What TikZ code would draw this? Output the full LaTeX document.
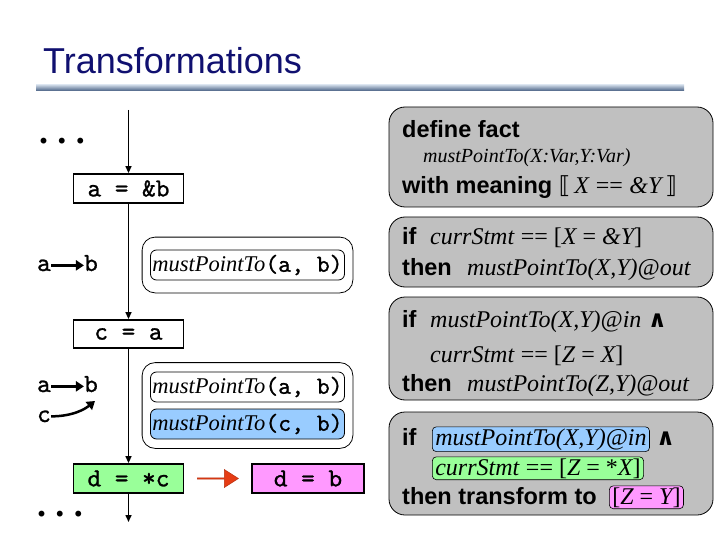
\documentclass[tikz,border=0pt]{standalone}
\usepackage{fontspec}
\setmainfont{Liberation Sans}
\newfontfamily\tms{Liberation Serif}
\newfontfamily\djv{DejaVu Sans}
\newfontfamily\cour[FakeBold=1]{lmmono10-regular.otf}
\usetikzlibrary{arrows.meta,shapes.arrows,fit}
\definecolor{navy}{RGB}{16,16,112}
\definecolor{rulegray}{RGB}{192,192,192}
\definecolor{factblue}{RGB}{153,204,255}
\definecolor{stmtgreen}{RGB}{153,255,153}
\definecolor{stmtpink}{RGB}{255,153,255}
\definecolor{arrred}{RGB}{230,60,20}
\definecolor{barlight}{RGB}{200,212,226}
\definecolor{bardark}{RGB}{70,95,130}
\newcommand{\ti}[1]{{\tms\mdseries\itshape #1}}
\newcommand{\tr}[1]{{\tms\mdseries\upshape #1}}
\newcommand{\mpt}{\ti{mustPointTo}}
\begin{document}
\begin{tikzpicture}[x=1pt,y=-1pt,
  stmtbox/.style={draw,line width=1.8pt,minimum width=110pt,minimum height=29pt,inner sep=0pt,font=\fontsize{26}{26}\selectfont\cour},
  ptlbl/.style={inner sep=0pt,anchor=base,font=\fontsize{26}{26}\selectfont\cour},
  dots/.style={inner sep=0pt,anchor=base,font=\fontsize{36}{36}\selectfont\tms\bfseries},
  factbox/.style={draw,line width=0.8pt,rounded corners=6pt,minimum width=194pt,minimum height=30pt,inner sep=0pt,font=\fontsize{22.5}{22}\selectfont},
  groupbox/.style={draw,line width=0.8pt,rounded corners=13pt,inner xsep=8pt},
  rulebox/.style={draw,line width=0.8pt,fill=rulegray,rounded corners=16pt,minimum width=324pt,inner sep=0pt},
  ruletext/.style={anchor=base west,inner sep=0pt,font=\bfseries\fontsize{23.5}{23.5}\selectfont},
  hl/.style={draw,line width=0.6pt,rounded corners=4pt,anchor=base west,inner xsep=3pt,inner ysep=1.5pt,font=\fontsize{24}{24}\selectfont},
  flow/.style={line width=1.5pt,-{Triangle[length=7pt,width=6pt]}},
  pt/.style={line width=2.5pt,-{Triangle[length=8pt,width=10pt]}}
]
\useasboundingbox (0,0) rectangle (720,540);
% title
\node[anchor=base west,inner sep=0pt,text=navy,font=\fontsize{36}{36}\selectfont] (title) at (43,74) {Transformations};
\shade[top color=barlight,bottom color=bardark] (36,85) rectangle (684,91);

% flow
\node[dots] (dots1) at (62,144) {.\hspace{9.5pt}.\hspace{9.5pt}.};
\coordinate (top) at (128.5,110);
\node[stmtbox] (s1) at (128.5,188.5) {a = \&b};
\node[stmtbox,minimum height=28pt] (s2) at (128.5,334) {c = a};
\node[stmtbox,fill=stmtgreen] (s3) at (128.5,478.5) {d = *c};
\node[stmtbox,fill=stmtpink,minimum width=112pt] (s4) at (308,478.5) {d = b};
\coordinate (bot) at (128.5,522);
\node[dots] (dots2) at (60,516) {.\hspace{9.5pt}.\hspace{9.5pt}.};
\draw[flow] (top) -- (s1.north);
\draw[flow] (s1.south) -- (s2.north);
\draw[flow] (s2.south) -- (s3.north);
\draw[flow] (s3.south) -- (bot);
\node[single arrow,fill=arrred,draw=arrred!80!black,line width=0.5pt,minimum height=41pt,minimum width=18pt,single arrow head extend=4pt,single arrow tip angle=65,inner sep=0pt] (ra) at (217.5,478.5) {};

% points-to graphs
\node[ptlbl] (a1) at (44,271) {a};
\node[ptlbl] (b1) at (91,271) {b};
\draw[pt] (a1.east) -- (a1.east -| b1.west);
\node[ptlbl] (a2) at (44,392) {a};
\node[ptlbl] (b2) at (91,392) {b};
\node[ptlbl] (c2) at (44,422) {c};
\draw[pt] (a2.east) -- (a2.east -| b2.west);
\coordinate (cb) at (95,401);
\draw[pt] (c2.east) .. controls +(22,0) and +(-10,8) .. (cb);

% facts
\node[factbox] (f1) at (247.5,265) {\mpt{\fontsize{24.5}{24}\selectfont\cour(a, b)}};
\node[groupbox,inner ysep=12.5pt,fit=(f1)] (g1) {};
\node[factbox] (f2) at (247.5,387) {\mpt{\fontsize{24.5}{24}\selectfont\cour(a, b)}};
\node[factbox,fill=factblue] (f3) at (247.5,424) {\mpt{\fontsize{24.5}{24}\selectfont\cour(c, b)}};
\node[groupbox,inner ysep=9pt,fit=(f2)(f3)] (g2) {};

% rule boxes
\node[rulebox,minimum height=100pt] (r1) at (551,157) {};
\node[rulebox,minimum height=70pt] (r2) at (551,252) {};
\node[rulebox,minimum height=103pt] (r3) at (551,348.5) {};
\node[rulebox,minimum height=103pt] (r4) at (551,463.5) {};

\node[ruletext] (r1a) at (402,138) {define fact};
\node[ruletext,font=\fontsize{20}{20}\selectfont] (r1b) at (423,163) {\ti{mustPointTo(X:Var,Y:Var)}};
\node[ruletext] (r1c) at (402,194) {with meaning {\djv\mdseries ⟦}\,{\fontsize{24}{24}\selectfont\ti{X} \tr{==} \ti{\&Y}}\,{\djv\mdseries ⟧}};

\node[ruletext] (r2a) at (402,244) {\makebox[28pt][l]{if}{\fontsize{24}{24}\selectfont\ti{currStmt} \tr{== [}\ti{X}\tr{ = }\ti{\&Y}\tr{]}}};
\node[ruletext] (r2b) at (402,275) {\makebox[65pt][l]{then}{\fontsize{24}{24}\selectfont\ti{mustPointTo(X,Y)@out}}};

\node[ruletext] (r3a) at (402,327) {\makebox[28pt][l]{if}{\fontsize{24}{24}\selectfont\ti{mustPointTo(X,Y)@in}} {\djv ∧}};
\node[ruletext] (r3b) at (430,362) {{\fontsize{24}{24}\selectfont\ti{currStmt} \tr{== [}\ti{Z}\tr{ = }\ti{X}\tr{]}}};
\node[ruletext] (r3c) at (402,391) {\makebox[65pt][l]{then}{\fontsize{24}{24}\selectfont\ti{mustPointTo(Z,Y)@out}}};

\node[ruletext] (r4a) at (402,445) {if};
\node[hl,fill=factblue] (r4b) at (432,445) {\ti{mustPointTo(X,Y)@in}};
\node[ruletext,anchor=base west] (r4and) at ([xshift=6pt]r4b.east |- r4a.base) {{\djv ∧}};
\node[hl,fill=stmtgreen] (r4c) at (432,475) {\ti{currStmt} \tr{== [}\ti{Z}\tr{ = *}\ti{X}\tr{]}};
\node[ruletext] (r4d) at (402,504) {then transform to};
\node[hl,fill=stmtpink] (r4e) at (609,504) {\tr{[}\ti{Z}\tr{ = }\ti{Y}\tr{]}};
\end{tikzpicture}
\end{document}
